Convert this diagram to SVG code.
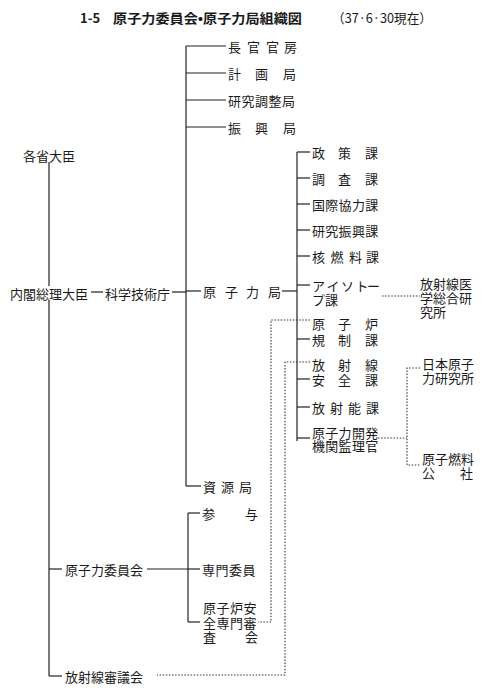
<svg xmlns="http://www.w3.org/2000/svg" width="494" height="700" viewBox="0 0 494 700">
<style>
text{font-family:"Noto Sans CJK JP","Noto Sans CJK SC",sans-serif;font-size:13px;fill:#1a1a1a;dominant-baseline:central}
.t{font-weight:bold;font-size:13px}
.ln{stroke:#222;stroke-width:1.2;fill:none}
.dt{stroke:#333;stroke-width:1.1;fill:none;stroke-dasharray:1.5 1.6}
</style>
<rect width="494" height="700" fill="#fff"/>
<g id="title">
<text class="t" x="80" y="17" font-size="14">1-5</text>
<text class="t" x="113" y="17" textLength="189" lengthAdjust="spacingAndGlyphs">原子力委員会•原子力局組織図</text>
<text x="332" y="17" textLength="100" lengthAdjust="spacingAndGlyphs">（37·6·30現在）</text>
</g>
<g id="connectors">
<line class="ln" x1="49" y1="162" x2="49" y2="286"/>
<line class="ln" x1="49" y1="300" x2="49" y2="676"/>
<line class="ln" x1="91" y1="292" x2="103" y2="292"/>
<line class="ln" x1="172" y1="292" x2="186" y2="292"/>
<line class="ln" x1="186" y1="46" x2="186" y2="486"/>
<line class="ln" x1="186" y1="46" x2="226" y2="46"/>
<line class="ln" x1="186" y1="73" x2="226" y2="73"/>
<line class="ln" x1="186" y1="100" x2="226" y2="100"/>
<line class="ln" x1="186" y1="127" x2="226" y2="127"/>
<line class="ln" x1="186" y1="291" x2="201" y2="291"/>
<line class="ln" x1="186" y1="486" x2="201" y2="486"/>
<line class="ln" x1="282" y1="291" x2="297" y2="291"/>
<line class="ln" x1="297" y1="152" x2="297" y2="441"/>
<line class="ln" x1="297" y1="152" x2="310" y2="152"/>
<line class="ln" x1="297" y1="178" x2="310" y2="178"/>
<line class="ln" x1="297" y1="204" x2="310" y2="204"/>
<line class="ln" x1="297" y1="230" x2="310" y2="230"/>
<line class="ln" x1="297" y1="256" x2="310" y2="256"/>
<line class="ln" x1="297" y1="285" x2="310" y2="285"/>
<line class="ln" x1="297" y1="339" x2="310" y2="339"/>
<line class="ln" x1="297" y1="379" x2="310" y2="379"/>
<line class="ln" x1="297" y1="407" x2="310" y2="407"/>
<line class="ln" x1="297" y1="438" x2="310" y2="438"/>
<line class="ln" x1="49" y1="569" x2="62" y2="569"/>
<line class="ln" x1="147" y1="569" x2="188" y2="569"/>
<line class="ln" x1="188" y1="513" x2="188" y2="622"/>
<line class="ln" x1="188" y1="513" x2="200" y2="513"/>
<line class="ln" x1="188" y1="569" x2="200" y2="569"/>
<line class="ln" x1="188" y1="622" x2="200" y2="622"/>
<line class="ln" x1="49" y1="676" x2="62" y2="676"/>
<polyline class="dt" points="382,296 420,296"/>
<polyline class="dt" points="378,438 407,438"/>
<polyline class="dt" points="420,368 407,368 407,465 420,465"/>
<polyline class="dt" points="310,320 271,320 271,622 258,622"/>
<polyline class="dt" points="310,362 285,362 285,675 157,675"/>
</g>
<g id="kakusho-daijin"><text x="23" y="155">各省大臣</text></g>
<g id="naikaku-sori-daijin"><text x="10" y="293">内閣総理大臣</text></g>
<g id="kagaku-gijutsu-cho"><text x="105" y="293">科学技術庁</text></g>
<g id="chokan-kanbo"><text x="228 247 266 284" y="46">長官官房</text></g>
<g id="keikaku-kyoku"><text x="228 255 283" y="73">計画局</text></g>
<g id="kenkyu-chosei-kyoku"><text x="228 241.5 255 268.5 282" y="100">研究調整局</text></g>
<g id="shinko-kyoku"><text x="228 255 283" y="127">振興局</text></g>
<g id="genshiryoku-kyoku"><text x="203 225 246 268" y="291">原子力局</text></g>
<g id="shigen-kyoku"><text x="203 221 239" y="486">資源局</text></g>
<g id="seisaku-ka"><text x="312 338 365" y="152">政策課</text></g>
<g id="chosa-ka"><text x="312 338 365" y="178">調査課</text></g>
<g id="kokusai-kyoryoku-ka"><text x="312 325.3 338.6 351.9 365.2" y="204">国際協力課</text></g>
<g id="kenkyu-shinko-ka"><text x="312 325.3 338.6 351.9 365.2" y="230">研究振興課</text></g>
<g id="kakunenryo-ka"><text x="312 330.5 349 366" y="256">核燃料課</text></g>
<g id="isotope-ka"><text><tspan x="312 326.5 341 355.5 367" y="285">アイソトー</tspan><tspan x="312 325" y="299">プ課</tspan></text></g>
<g id="hoshasen-igaku"><text><tspan x="420" y="283">放射線医</tspan><tspan x="420" y="297">学総合研</tspan><tspan x="420" y="311">究所</tspan></text></g>
<g id="genshiro-kisei-ka"><text><tspan x="312 338 365" y="323">原子炉</tspan><tspan x="312 338 365" y="339">規制課</tspan></text></g>
<g id="hoshasen-anzen-ka"><text><tspan x="312 338 365" y="364">放射線</tspan><tspan x="312 338 365" y="379">安全課</tspan></text></g>
<g id="hoshano-ka"><text x="312 330 348 366" y="407">放射能課</text></g>
<g id="kaihatsu-kikan"><text><tspan x="312 325.3 338.6 351.9 365.2" y="432">原子力開発</tspan><tspan x="312 325.3 338.6 351.9 365.2" y="445">機関監理官</tspan></text></g>
<g id="nihon-genshiryoku"><text><tspan x="422" y="363">日本原子</tspan><tspan x="422" y="377">力研究所</tspan></text></g>
<g id="genshi-nenryo-kosha"><text><tspan x="422" y="458">原子燃料</tspan><tspan x="422 460" y="472">公社</tspan></text></g>
<g id="genshiryoku-iinkai"><text x="65" y="569">原子力委員会</text></g>
<g id="sanyo"><text x="202 245" y="513">参与</text></g>
<g id="senmon-iin"><text x="202 215.5 229 242.5" y="569">専門委員</text></g>
<g id="genshiro-anzen-shinsakai"><text><tspan x="203 216.5 230 243.5" y="607">原子炉安</tspan><tspan x="203 216.5 230 243.5" y="622">全専門審</tspan><tspan x="203 245" y="636">査会</tspan></text></g>
<g id="hoshasen-shingikai"><text x="65" y="676">放射線審議会</text></g>
</svg>
